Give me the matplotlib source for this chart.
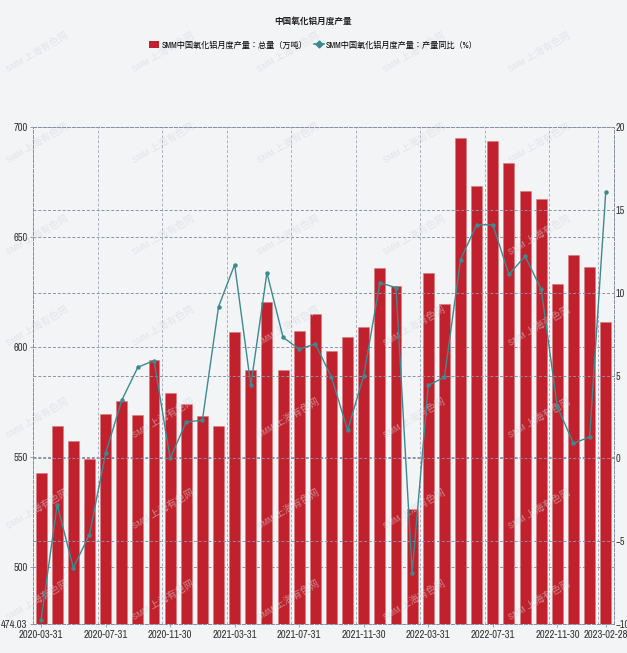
import numpy as np
import matplotlib.pyplot as plt
from matplotlib.lines import Line2D
from matplotlib.patches import Patch

plt.rcParams['font.family'] = ['Archivo Narrow', 'Noto Sans CJK JP', 'DejaVu Sans']

# data
dates = ["2020-03-31", "2020-04-30", "2020-05-31", "2020-06-30", "2020-07-31", "2020-08-31",
         "2020-09-30", "2020-10-31", "2020-11-30", "2020-12-31", "2021-01-31", "2021-02-28",
         "2021-03-31", "2021-04-30", "2021-05-31", "2021-06-30", "2021-07-31", "2021-08-31",
         "2021-09-30", "2021-10-31", "2021-11-30", "2021-12-31", "2022-01-31", "2022-02-28",
         "2022-03-31", "2022-04-30", "2022-05-31", "2022-06-30", "2022-07-31", "2022-08-31",
         "2022-09-30", "2022-10-31", "2022-11-30", "2022-12-31", "2023-01-31", "2023-02-28"]
output = [542.9, 564.1, 557.4, 549.2, 569.4, 575.2, 569.2, 594.2, 579.2, 574.2, 568.5, 564.2,
          606.7, 589.7, 620.3, 589.7, 607.4, 615.2, 598.0, 604.5, 609.2, 635.8, 627.6, 526.2,
          633.6, 619.5, 694.8, 673.3, 693.5, 683.8, 671.0, 667.1, 628.8, 642.0, 636.2, 611.2]
yoy = [-9.75, -2.8, -6.6, -4.6, 0.3, 3.5, 5.5, 5.9, 0.0, 2.2, 2.3, 9.15,
       11.7, 4.4, 11.2, 7.3, 6.6, 6.9, 4.9, 1.7, 5.0, 10.6, 10.3, -6.9,
       4.4, 4.9, 12.0, 14.1, 14.1, 11.1, 12.2, 10.2, 3.1, 0.9, 1.3, 16.1]
tick_idx = [0, 4, 8, 12, 16, 20, 24, 28, 32, 35]
left_ticks = [474.03, 500, 550, 600, 650, 700]
right_ticks = [-10, -5, 0, 5, 10, 15, 20]

bg = '#f3f4f6'
bar_c = '#c0212c'
line_c = '#3c8a90'
grid_c = '#8b90a8'

fig = plt.figure(figsize=(6.27, 6.53), dpi=100, facecolor=bg)
ax = fig.add_axes([0.0526, 0.0444, 0.9264, 0.7611], facecolor=bg)
ax2 = ax.twinx()

x = np.arange(len(dates))
ax.bar(x, output, width=0.68, color=bar_c, edgecolor='#d77a80', linewidth=0.4, zorder=3)
ax.set_xlim(-0.5, len(dates) - 0.5)
ax.set_ylim(474.03, 700)
ax.set_yticks(left_ticks)
ax.set_yticklabels([str(t) for t in left_ticks])
ax.set_xticks(tick_idx)
ax.set_xticklabels([dates[i] for i in tick_idx])

ax2.plot(x, yoy, color=line_c, lw=1.0, marker='o', ms=2.2, zorder=4)
ax2.set_ylim(-10, 20)
ax2.set_yticks(right_ticks)

# grid lines (both axes)
for t in left_ticks[1:]:
    ax.axhline(t, color=grid_c, lw=0.7, ls=(0, (3, 2)), zorder=1)
for t in right_ticks[1:-1]:
    ax2.axhline(t, color=grid_c, lw=0.7, ls=(0, (3, 2)), zorder=0)
for i in tick_idx:
    ax.axvline(i - 0.5, color='#aab0c0', lw=0.7, ls=(0, (3, 2)), zorder=1)

for a in (ax, ax2):
    for s in a.spines.values():
        s.set_color(grid_c)
        s.set_linewidth(0.7)
        s.set_linestyle((0, (3, 2)))
    a.tick_params(length=2, width=0.6, color=grid_c, labelsize=7.6, labelcolor='#333333', pad=2)
ax2.tick_params(axis='y', length=0, pad=1.5, labelsize=7.4)
ax2.set_zorder(ax.get_zorder() + 1)
ax2.patch.set_visible(False)

# watermark
for wx in np.arange(0.06, 1.0, 0.2):
    for wy in np.arange(0.08, 1.0, 0.14):
        fig.text(wx, wy, 'SMM 上海有色网', rotation=30, fontsize=7, color='#d6d8dd',
                 alpha=0.55, ha='center', va='center', zorder=0)

fig.text(0.5, 0.968, '中国氧化铝月度产量', ha='center', va='center', fontsize=6.2,
         fontweight='bold', color='#222222')
handles = [Patch(facecolor=bar_c),
           Line2D([0], [0], color=line_c, lw=1.2, marker='D', ms=3.5)]
fig.legend(handles, ['SMM中国氧化铝月度产量：总量（万吨）', 'SMM中国氧化铝月度产量：产量同比（%）'],
           loc='center', bbox_to_anchor=(0.5, 0.931), ncol=2, frameon=False, fontsize=5.9,
           handlelength=1.2, handleheight=0.9, handletextpad=0.3, columnspacing=0.8)

fig.savefig('out.png', dpi=100, facecolor=bg)
